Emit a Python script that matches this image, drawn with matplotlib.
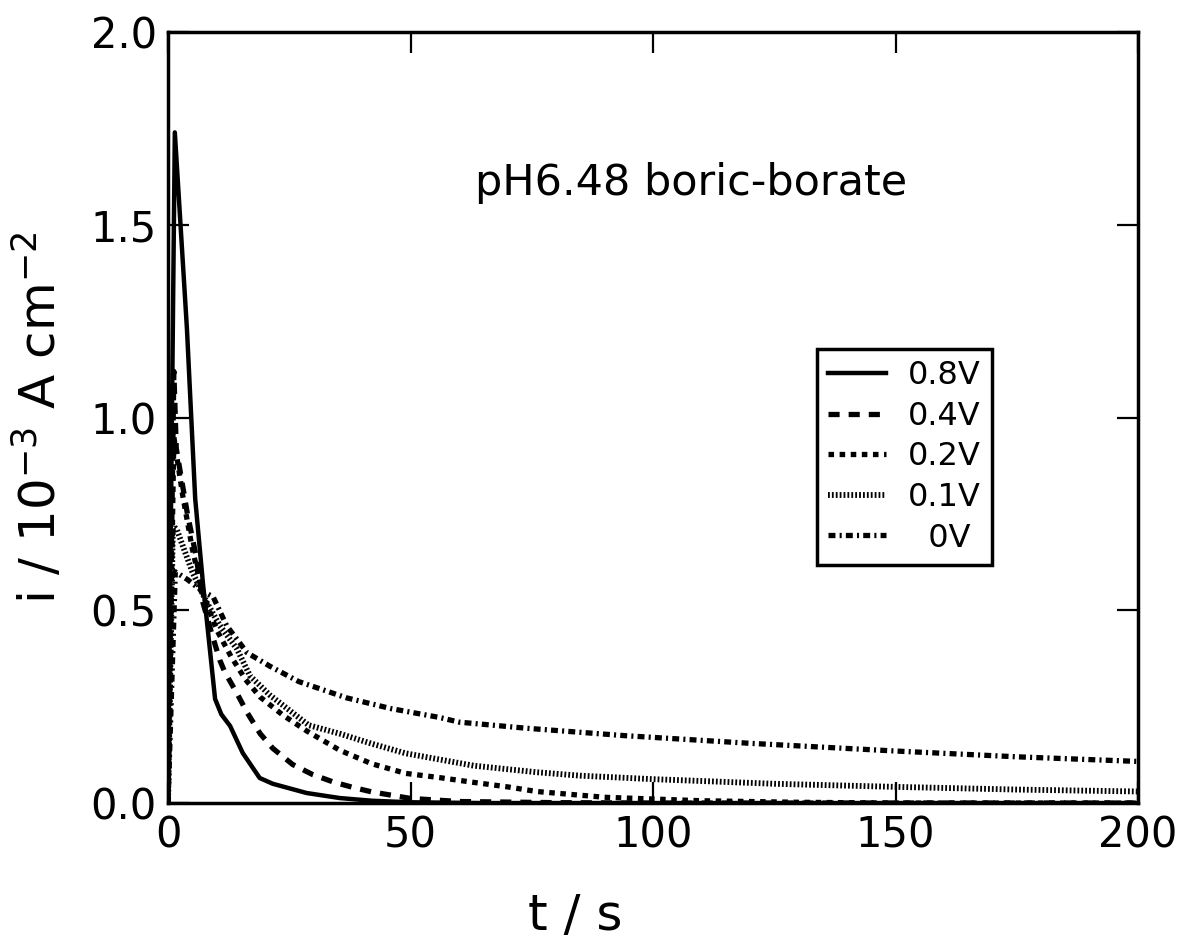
import numpy as np
import matplotlib
matplotlib.use("Agg")
import matplotlib.pyplot as plt

plt.rcParams['font.family'] = ['DejaVu Sans']
plt.rcParams['lines.scale_dashes'] = False
plt.rcParams['mathtext.default'] = 'regular'

# current transients, t in s, i in 10^-3 A cm^-2
t_08 = [0, 1.4, 3.9, 5.6, 7.2, 9.7, 11, 12.8, 15.4, 18.9, 21.6, 28.6, 35.4, 42, 50, 65, 200]
i_08 = [0, 1.74, 1.23, 0.79, 0.57, 0.27, 0.23, 0.20, 0.13, 0.065, 0.05, 0.026, 0.013, 0.006, 0.002, 0.0, 0.0]

t_04 = [0, 1.2, 1.7, 4, 5.8, 7.2, 9, 10.7, 11.7, 14.2, 16.3, 19, 21.6, 25.7, 29.8, 34, 38, 42, 50, 60, 80, 100, 200]
i_04 = [0, 1.12, 0.92, 0.75, 0.64, 0.52, 0.44, 0.37, 0.34, 0.285, 0.235, 0.18, 0.142, 0.10, 0.074, 0.055, 0.041, 0.029, 0.012, 0.004, 0.001, 0.0, 0.0]

t_02 = [0, 1.2, 3, 5, 7, 10, 13, 16, 19, 23.7, 28.6, 35.4, 42, 49, 56, 62.8, 70, 76, 90, 110, 130, 150, 200]
i_02 = [0, 0.95, 0.8, 0.66, 0.55, 0.45, 0.38, 0.32, 0.275, 0.228, 0.187, 0.137, 0.102, 0.077, 0.066, 0.054, 0.042, 0.030, 0.015, 0.006, 0.002, 0.0, 0.0]

t_01 = [0, 1.0, 1.8, 5, 8, 10.7, 14.2, 16.9, 21, 29, 35.4, 42, 49, 56, 63, 76, 85, 100, 125, 150, 175, 200]
i_01 = [0, 0.72, 0.71, 0.60, 0.52, 0.46, 0.40, 0.33, 0.28, 0.202, 0.18, 0.154, 0.129, 0.113, 0.097, 0.08, 0.071, 0.062, 0.05, 0.042, 0.035, 0.03]

t_00 = [0, 1.5, 4, 7, 9.3, 12.1, 16.3, 21, 27, 36.8, 46, 56, 60, 74, 94, 120, 150, 175, 200]
i_00 = [0, 0.60, 0.58, 0.55, 0.535, 0.46, 0.39, 0.355, 0.315, 0.273, 0.245, 0.222, 0.21, 0.194, 0.175, 0.155, 0.135, 0.12, 0.108]

labels = ['0.8V', '0.4V', '0.2V', '0.1V', '  0V']

fig = plt.figure(figsize=(11.8, 9.47), dpi=100)
ax = fig.add_axes([0.1424, 0.152, 0.822, 0.814])

ax.plot(t_08, i_08, color='black', lw=3.2, label=labels[0])
ax.plot(t_04, i_04, color='black', lw=3.8, linestyle=(0, (8, 6.5)), label=labels[1])
ax.plot(t_02, i_02, color='black', lw=3.8, linestyle=(0, (4, 4)), label=labels[2])
ax.plot(t_01, i_01, color='black', lw=4.2, linestyle=(0, (1.3, 1.5)), label=labels[3])
ax.plot(t_00, i_00, color='black', lw=3.8, linestyle=(0, (5, 3, 1.5, 3)), label=labels[4])

ax.set_xlim(0, 200)
ax.set_ylim(0, 2.0)
ax.set_xticks([0, 50, 100, 150, 200])
ax.set_yticks([0, 0.5, 1.0, 1.5, 2.0])
ax.set_yticklabels(['0.0', '0.5', '1.0', '1.5', '2.0'])
ax.tick_params(direction='in', length=15, width=1.6, labelsize=30,
               top=True, right=True, pad=8)
for s in ax.spines.values():
    s.set_linewidth(2.5)

ax.set_xlabel('t / s', fontsize=36)
ax.xaxis.set_label_coords(0.42, -0.115)
ax.set_ylabel('i / 10$^{-3}$ A cm$^{-2}$', fontsize=36, labelpad=18)

ax.text(0.3165, 0.805, 'pH6.48 boric-borate', transform=ax.transAxes,
        fontsize=31, va='center', ha='left')

leg = ax.legend(loc='upper left', bbox_to_anchor=(0.669, 0.589), borderaxespad=0,
                fontsize=23, handlelength=1.8, handletextpad=0.7, labelspacing=0.3,
                borderpad=0.35, fancybox=False, framealpha=1, edgecolor='black')
leg.get_frame().set_linewidth(2.5)

fig.savefig('out.png', dpi=100)
